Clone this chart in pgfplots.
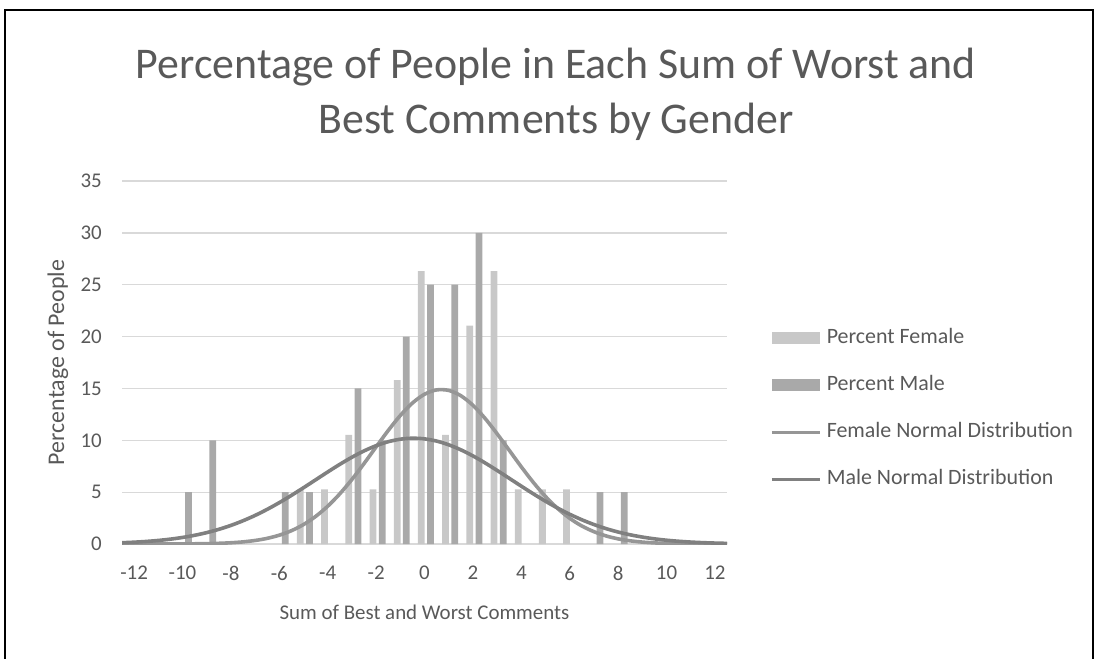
\documentclass[border=0pt]{standalone}
\usepackage{fontspec}
\setmainfont{Carlito}
\usepackage{pgfplots}
\pgfplotsset{compat=1.18}

\definecolor{txt}{HTML}{595959}
\definecolor{gridc}{HTML}{D9D9D9}
\definecolor{fbar}{HTML}{C8C8C8}
\definecolor{mbar}{HTML}{A9A9A9}
\definecolor{fline}{HTML}{969696}
\definecolor{mline}{HTML}{808080}

\begin{document}
\begin{tikzpicture}[x=1bp,y=1bp]
\path[use as bounding box] (0,0) rectangle (1097,-659);
\draw[line width=2.5bp] (5,-659) -- (5,-10) -- (1093,-10) -- (1093,-659);
\node[font=\fontsize{44}{55}\selectfont, text=txt, align=center] at (556,-94)
  {Percentage of People in Each Sum of Worst and\\Best Comments by Gender};

\begin{axis}[
  at={(122bp,-544bp)}, anchor=south west,
  scale only axis, width=605bp, height=363bp,
  xmin=-12.5, xmax=12.5, ymin=0, ymax=35,
  axis line style={draw=none},
  tick style={draw=none},
  ymajorgrids, grid style={gridc, line width=1.3bp},
  xtick={-12,-10,...,12},
  xticklabels={-12,-10,-8,-6,-4,-2,0,2,4,6,8,10,12},
  ytick={0,5,...,35},
  yticklabels={0,5,10,15,20,25,30,35},
  tick label style={font=\fontsize{21}{25}\selectfont, text=txt, inner sep=0pt},
  yticklabel style={anchor=east, xshift=-20bp},
  xticklabel style={anchor=north, yshift=-22bp},
  xlabel={Sum of Best and Worst Comments},
  ylabel={Percentage of People},
  xlabel style={at={(axis description cs:0.5,-0.187)}, anchor=center,
    font=\fontsize{21}{25}\selectfont, text=txt},
  ylabel style={at={(axis description cs:-0.1058,0.5)}, anchor=center,
    font=\fontsize{24}{28}\selectfont, text=txt},
  legend cell align=left,
  legend style={at={(1.071,0.592)}, anchor=north west, draw=none, fill=none,
    inner sep=0pt, row sep=29bp, column sep=5bp,
    nodes={font=\fontsize{22}{26}\selectfont, text=txt, inner sep=0pt,
      text height=14bp, text depth=4bp}},
]

% percentage bars, female left of each category and male right of it
\addplot[ybar, bar width=0.28, bar shift=-0.13, fill=fbar, draw=none,
  legend image code/.code={\fill[fbar] (0bp,-6bp) rectangle (48bp,6bp);}]
  coordinates {(-5,5.26) (-4,5.26) (-3,10.53) (-2,5.26) (-1,15.79) (0,26.32)
               (1,10.53) (2,21.05) (3,26.32) (4,5.26) (5,5.26) (6,5.26)};
\addlegendentry{Percent Female}

\addplot[ybar, bar width=0.28, bar shift=0.25, fill=mbar, draw=none,
  legend image code/.code={\fill[mbar] (0bp,-6bp) rectangle (48bp,6bp);}]
  coordinates {(-10,5) (-9,10) (-6,5) (-5,5) (-3,15) (-2,10) (-1,20) (0,25)
               (1,25) (2,30) (3,10) (7,5) (8,5)};
\addlegendentry{Percent Male}

% fitted normal curves
\addplot[smooth, no markers, fline, line width=3.6bp,
  legend image code/.code={\draw[fline, line width=3.6bp] (0bp,0bp) -- (48bp,0bp);}]
  coordinates {
  (-12.5,0.000) (-12,0.001) (-11.5,0.001) (-11,0.002) (-10.5,0.005) (-10,0.010)
  (-9.5,0.020) (-9,0.037) (-8.5,0.067) (-8,0.119) (-7.5,0.205) (-7,0.340)
  (-6.5,0.546) (-6,0.851) (-5.5,1.283) (-5,1.876) (-4.5,2.657) (-4,3.643)
  (-3.5,4.838) (-3,6.224) (-2.5,7.754) (-2,9.360) (-1.5,10.94) (-1,12.39)
  (-0.5,13.59) (0,14.44) (0.5,14.86) (1,14.81) (1.5,14.30) (2,13.38)
  (2.5,12.12) (3,10.63) (3.5,9.04) (4,7.44) (4.5,5.93) (5,4.58)
  (5.5,3.43) (6,2.48) (6.5,1.74) (7,1.19) (7.5,0.781) (8,0.498)
  (8.5,0.308) (9,0.184) (9.5,0.107) (10,0.060) (10.5,0.033) (11,0.017)
  (11.5,0.009) (12,0.004) (12.5,0.002)};
\addlegendentry{Female Normal Distribution}

\addplot[smooth, no markers, mline, line width=3.6bp,
  legend image code/.code={\draw[mline, line width=3.6bp] (0bp,0bp) -- (48bp,0bp);}]
  coordinates {
  (-12.5,0.122) (-12,0.175) (-11.5,0.246) (-11,0.343) (-10.5,0.469) (-10,0.632)
  (-9.5,0.840) (-9,1.098) (-8.5,1.415) (-8,1.794) (-7.5,2.242) (-7,2.757)
  (-6.5,3.342) (-6,3.988) (-5.5,4.687) (-5,5.426) (-4.5,6.186) (-4,6.946)
  (-3.5,7.682) (-3,8.366) (-2.5,8.973) (-2,9.480) (-1.5,9.863) (-1,10.106)
  (-0.5,10.20) (0,10.137) (0.5,9.924) (1,9.567) (1.5,9.083) (2,8.494)
  (2.5,7.823) (3,7.096) (3.5,6.338) (4,5.577) (4.5,4.833) (5,4.124)
  (5.5,3.466) (6,2.869) (6.5,2.339) (7,1.879) (7.5,1.485) (8,1.157)
  (8.5,0.887) (9,0.670) (9.5,0.499) (10,0.365) (10.5,0.264) (11,0.187)
  (11.5,0.131) (12,0.090) (12.5,0.061)};
\addlegendentry{Male Normal Distribution}

\end{axis}
\end{tikzpicture}
\end{document}
